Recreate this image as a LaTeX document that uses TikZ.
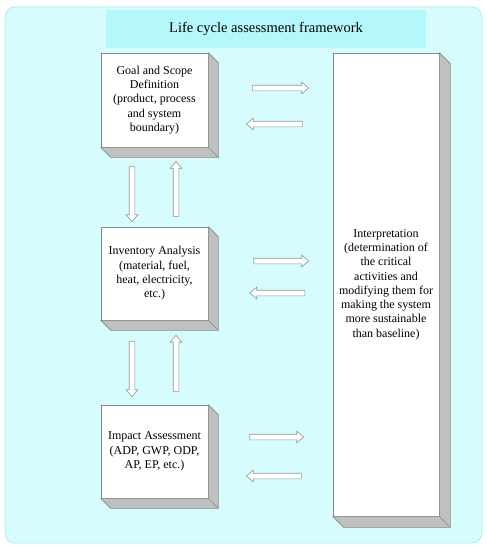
\documentclass[tikz,border=0pt]{standalone}
\usepackage{fontspec}
\setmainfont{Liberation Serif}
\usetikzlibrary{shapes.arrows}
\definecolor{bgcyan}{HTML}{D6FCFD}
\definecolor{bgedge}{HTML}{A9EDF0}
\definecolor{titlecyan}{HTML}{B4F8FB}
\definecolor{edgegray}{HTML}{808A8A}
\definecolor{sidegray}{HTML}{C0C0C0}
\definecolor{arrowgray}{HTML}{8C9696}
\newcommand\depthof[2]{%
  \filldraw[depthface] (#1.north east) -- ([shift={(#2,#2)}]#1.north east)
    -- ([shift={(#2,#2)}]#1.south east) -- ([shift={(#2,#2)}]#1.south west)
    -- (#1.south west) -- (#1.south east) -- cycle;
  \draw[depthface] (#1.south east) -- ([shift={(#2,#2)}]#1.south east);}
\begin{document}
\begin{tikzpicture}[x=1pt,y=-1pt,
  stagebox/.style={draw=edgegray, fill=white, line width=0.6pt, align=center,
    inner sep=0pt, font=\fontsize{12}{14.3}\selectfont},
  depthface/.style={draw=edgegray, fill=sidegray, line width=0.6pt, line join=round},
  hollow/.style={single arrow, draw=arrowgray, fill=white, line width=0.6pt,
    inner sep=2.5pt, minimum width=11pt, single arrow head extend=3pt,
    single arrow tip angle=80, anchor=center},
  rightarr/.style={hollow, shape border rotate=0},
  leftarr/.style={hollow, shape border rotate=180},
  downarr/.style={hollow, shape border rotate=270},
  uparr/.style={hollow, shape border rotate=90}]
\useasboundingbox (0,0) rectangle (487,550);
\fill[white] (0,0) rectangle (487,550);
\draw[fill=bgcyan, draw=bgedge, line width=0.8pt, rounded corners=10pt] (5,7) rectangle (482,543);
\fill[titlecyan] (106,10) rectangle (426,48);
\node[font=\fontsize{14.5}{16}\selectfont] (title) at (266,28.5) {Life cycle assessment framework};

\node[stagebox, minimum width=107pt, minimum height=94pt] (goal) at (154.5,100)
  {Goal and Scope\\Definition\\(product, process\\and system\\boundary)};
\depthof{goal}{10}
\node[stagebox, minimum width=107pt, minimum height=93pt] (inv) at (154.5,273.5)
  {Inventory Analysis\\(material, fuel,\\heat, electricity,\\etc.)};
\depthof{inv}{10}
\node[stagebox, minimum width=107pt, minimum height=93pt] (imp) at (154.5,451.5)
  {Impact Assessment\\(ADP, GWP, ODP,\\AP, EP, etc.)};
\depthof{imp}{10}
\node[stagebox, minimum width=106pt, minimum height=463pt] (interp) at (386,284.5)
  {Interpretation\\(determination of\\the critical\\activities and\\modifying them for\\making the system\\more sustainable\\than baseline)};
\depthof{interp}{11}

\node[rightarr, minimum height=56pt] (r1) at (279,88) {};
\node[leftarr, minimum height=56pt] (l1) at (276,124) {};
\node[rightarr, minimum height=55pt] (r2) at (279.5,261) {};
\node[leftarr, minimum height=55pt] (l2) at (279,293) {};
\node[rightarr, minimum height=54pt] (r3) at (275,437) {};
\node[leftarr, minimum height=55pt] (l3) at (275.5,476) {};
\node[downarr, minimum height=55pt] (d1) at (132,192.5) {};
\node[uparr, minimum height=55pt] (u1) at (176,190.5) {};
\node[downarr, minimum height=55pt] (d2) at (132,367.5) {};
\node[uparr, minimum height=56pt] (u2) at (176,365) {};
\end{tikzpicture}
\end{document}
